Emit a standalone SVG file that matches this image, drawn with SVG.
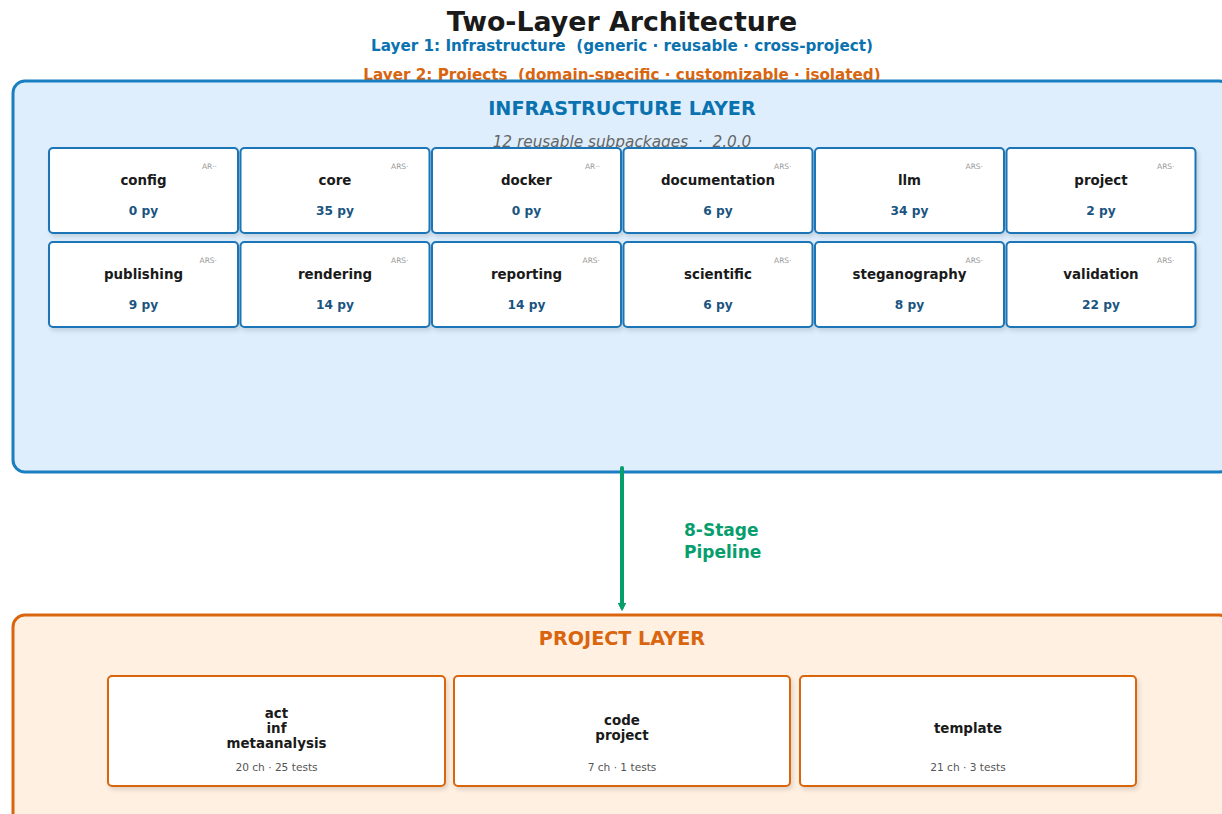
<svg xmlns="http://www.w3.org/2000/svg" width="1222" height="814" viewBox="0 0 1222 814">
  <style>
    text { font-family: "DejaVu Sans", "Liberation Sans", sans-serif; text-anchor: middle; white-space: pre; }
    .title { font-size: 26.8px; font-weight: bold; fill: #1a1a1a; }
    .sub1 { font-size: 15.2px; font-weight: bold; fill: #0b72b0; }
    .sub2 { font-size: 15.2px; font-weight: bold; fill: #d9650f; }
    .layer-infra { fill: #deeefd; stroke: #1a7fc0; stroke-width: 3; }
    .layer-proj { fill: #fff0e2; stroke: #d9650f; stroke-width: 3; }
    .hdr-infra { font-size: 19.2px; font-weight: bold; fill: #0b72b0; }
    .hdr-proj { font-size: 19.2px; font-weight: bold; fill: #d9650f; }
    .meta { font-size: 15.3px; font-style: italic; fill: #666666; }
    .pkg rect { fill: #ffffff; stroke: #1a75b6; stroke-width: 2; }
    .proj rect { fill: #ffffff; stroke: #d9650f; stroke-width: 2; }
    .name { font-size: 13.4px; font-weight: bold; fill: #1a1a1a; }
    .count { font-size: 12.2px; font-weight: bold; fill: #1a5480; }
    .badge { font-size: 7.5px; fill: #999999; text-anchor: end; }
    .stats { font-size: 10.6px; fill: #555555; }
    .flow { stroke: #079e6e; stroke-width: 4; fill: none; stroke-linecap: round; }
    .flow-label { font-size: 17px; font-weight: bold; fill: #079e6e; text-anchor: start; }
  </style>
  <defs>
    <filter id="shadow" x="-10%" y="-10%" width="130%" height="140%">
      <feDropShadow dx="2" dy="3" stdDeviation="2" flood-color="#000000" flood-opacity="0.12"/>
    </filter>
    <marker id="arrow" viewBox="0 0 10 10" refX="5" refY="5" markerWidth="2.2" markerHeight="2.2" orient="auto">
      <path d="M0,0 L10,5 L0,10 z" fill="#079e6e"/>
    </marker>
  </defs>

  <!-- heading -->
  <text class="title" x="622" y="31">Two-Layer Architecture</text>
  <text class="sub1" x="622" y="51">Layer 1: Infrastructure  (generic · reusable · cross-project)</text>
  <text class="sub2" x="622" y="80">Layer 2: Projects  (domain-specific · customizable · isolated)</text>

  <!-- infrastructure layer -->
  <g id="infrastructure-layer">
    <rect class="layer-infra" x="13" y="81" width="1218" height="391" rx="12"/>
    <text class="hdr-infra" x="622" y="115">INFRASTRUCTURE LAYER</text>
    <text class="meta" x="622" y="147">12 reusable subpackages  ·  2.0.0</text>
  </g>

  <!-- project layer -->
  <g id="project-layer">
    <rect class="layer-proj" x="13" y="615" width="1218" height="230" rx="12"/>
    <text class="hdr-proj" x="622" y="645">PROJECT LAYER</text>
  </g>

  <!-- subpackages, row 1 -->
  <g id="pkg-config" class="pkg">
    <rect x="49" y="148" width="189" height="85" rx="4" filter="url(#shadow)"/>
    <text class="badge" x="217" y="169">AR··</text>
    <text class="name" x="143.5" y="185">config</text>
    <text class="count" x="143.5" y="215">0 py</text>
  </g>
  <g id="pkg-core" class="pkg">
    <rect x="240.5" y="148" width="189" height="85" rx="4" filter="url(#shadow)"/>
    <text class="badge" x="408.5" y="169">ARS·</text>
    <text class="name" x="335" y="185">core</text>
    <text class="count" x="335" y="215">35 py</text>
  </g>
  <g id="pkg-docker" class="pkg">
    <rect x="432" y="148" width="189" height="85" rx="4" filter="url(#shadow)"/>
    <text class="badge" x="600" y="169">AR··</text>
    <text class="name" x="526.5" y="185">docker</text>
    <text class="count" x="526.5" y="215">0 py</text>
  </g>
  <g id="pkg-documentation" class="pkg">
    <rect x="623.5" y="148" width="189" height="85" rx="4" filter="url(#shadow)"/>
    <text class="badge" x="791.5" y="169">ARS·</text>
    <text class="name" x="718" y="185">documentation</text>
    <text class="count" x="718" y="215">6 py</text>
  </g>
  <g id="pkg-llm" class="pkg">
    <rect x="815" y="148" width="189" height="85" rx="4" filter="url(#shadow)"/>
    <text class="badge" x="983" y="169">ARS·</text>
    <text class="name" x="909.5" y="185">llm</text>
    <text class="count" x="909.5" y="215">34 py</text>
  </g>
  <g id="pkg-project" class="pkg">
    <rect x="1006.5" y="148" width="189" height="85" rx="4" filter="url(#shadow)"/>
    <text class="badge" x="1174.5" y="169">ARS·</text>
    <text class="name" x="1101" y="185">project</text>
    <text class="count" x="1101" y="215">2 py</text>
  </g>

  <!-- subpackages, row 2 -->
  <g id="pkg-publishing" class="pkg">
    <rect x="49" y="242" width="189" height="85" rx="4" filter="url(#shadow)"/>
    <text class="badge" x="217" y="263">ARS·</text>
    <text class="name" x="143.5" y="279">publishing</text>
    <text class="count" x="143.5" y="309">9 py</text>
  </g>
  <g id="pkg-rendering" class="pkg">
    <rect x="240.5" y="242" width="189" height="85" rx="4" filter="url(#shadow)"/>
    <text class="badge" x="408.5" y="263">ARS·</text>
    <text class="name" x="335" y="279">rendering</text>
    <text class="count" x="335" y="309">14 py</text>
  </g>
  <g id="pkg-reporting" class="pkg">
    <rect x="432" y="242" width="189" height="85" rx="4" filter="url(#shadow)"/>
    <text class="badge" x="600" y="263">ARS·</text>
    <text class="name" x="526.5" y="279">reporting</text>
    <text class="count" x="526.5" y="309">14 py</text>
  </g>
  <g id="pkg-scientific" class="pkg">
    <rect x="623.5" y="242" width="189" height="85" rx="4" filter="url(#shadow)"/>
    <text class="badge" x="791.5" y="263">ARS·</text>
    <text class="name" x="718" y="279">scientific</text>
    <text class="count" x="718" y="309">6 py</text>
  </g>
  <g id="pkg-steganography" class="pkg">
    <rect x="815" y="242" width="189" height="85" rx="4" filter="url(#shadow)"/>
    <text class="badge" x="983" y="263">ARS·</text>
    <text class="name" x="909.5" y="279">steganography</text>
    <text class="count" x="909.5" y="309">8 py</text>
  </g>
  <g id="pkg-validation" class="pkg">
    <rect x="1006.5" y="242" width="189" height="85" rx="4" filter="url(#shadow)"/>
    <text class="badge" x="1174.5" y="263">ARS·</text>
    <text class="name" x="1101" y="279">validation</text>
    <text class="count" x="1101" y="309">22 py</text>
  </g>

  <!-- projects -->
  <g id="proj-act-inf-metaanalysis" class="proj">
    <rect x="108" y="676" width="337" height="110" rx="4" filter="url(#shadow)"/>
    <text class="name" x="276.5" y="718">act</text>
    <text class="name" x="276.5" y="733">inf</text>
    <text class="name" x="276.5" y="748">metaanalysis</text>
    <text class="stats" x="276.5" y="771">20 ch · 25 tests</text>
  </g>
  <g id="proj-code-project" class="proj">
    <rect x="454" y="676" width="336" height="110" rx="4" filter="url(#shadow)"/>
    <text class="name" x="622" y="725">code</text>
    <text class="name" x="622" y="740">project</text>
    <text class="stats" x="622" y="771">7 ch · 1 tests</text>
  </g>
  <g id="proj-template" class="proj">
    <rect x="800" y="676" width="336" height="110" rx="4" filter="url(#shadow)"/>
    <text class="name" x="968" y="733">template</text>
    <text class="stats" x="968" y="771">21 ch · 3 tests</text>
  </g>

  <!-- connectors -->
  <g id="connectors">
    <line class="flow" x1="622" y1="468" x2="622" y2="607" marker-end="url(#arrow)"/>
    <text class="flow-label" x="684" y="536">8-Stage</text>
    <text class="flow-label" x="684" y="558">Pipeline</text>
  </g>
</svg>
